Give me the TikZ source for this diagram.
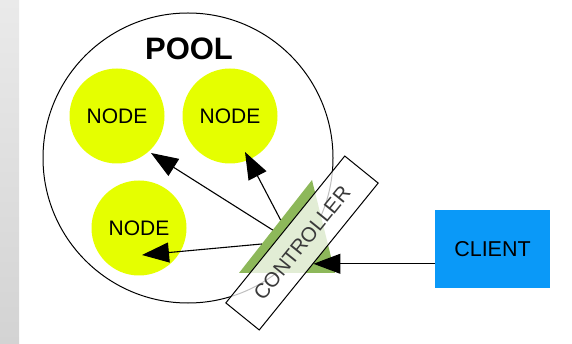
\documentclass[tikz,border=0pt]{standalone}
\usepackage{fontspec}
\setmainfont{Liberation Sans}
\usetikzlibrary{arrows.meta,calc}
\definecolor{nodeyellow}{HTML}{E5FF00}
\definecolor{clientblue}{HTML}{0A99F8}
\definecolor{ctrlgreen}{HTML}{8DB85A}
\definecolor{stripTop}{HTML}{EAEAEA}
\definecolor{stripBot}{HTML}{D3D3D3}
\definecolor{ctrltext}{HTML}{3A3A3A}
\begin{document}
\begin{tikzpicture}[x=1pt,y=-1pt,
  poolnode/.style={circle, fill=nodeyellow, minimum size=95pt, inner sep=0pt, font=\fontsize{21}{21}\selectfont},
  link/.style={line width=1.1pt, -{Triangle[length=27pt,width=20pt]}},
  ]
\useasboundingbox (0,0) rectangle (572,344);
\shade[top color=stripTop, bottom color=stripBot] (0,0) rectangle (19,344);
\node[circle, draw, line width=1pt, minimum size=290pt, inner sep=0pt] (pool) at (188,158) {};
\node[font=\fontsize{31}{31}\selectfont\bfseries] (pooltitle) at (189,49) {POOL};
\node[poolnode] (n1) at (117,116) {NODE};
\node[poolnode] (n2) at (230,116) {NODE};
\node[poolnode] (n3) at (139,228) {NODE};
\coordinate (gtop) at (312,180);
\coordinate (gbl) at (239,273);
\coordinate (gbr) at (335,273);
\fill[ctrlgreen] (gtop) -- (gbl) -- (gbr) -- cycle;
\coordinate (s1) at ($(gtop)!0.538!(gbl)$);
\coordinate (s2) at ($(gtop)!0.43!(gbl)$);
\coordinate (s3) at ($(gtop)!0.688!(gbl)$);
\coordinate (t1) at ($(n1.center)+(34,37)$);
\coordinate (t2) at ($(n2.center)+(15,36)$);
\coordinate (t3) at ($(n3.center)+(3,27)$);
\draw[link] (s1) -- (t1);
\draw[link] (s2) -- (t2);
\draw[link] (s3) -- (t3);
\node[draw, line width=1pt, fill=white, fill opacity=0.75, text opacity=1, text=ctrltext,
  rotate=51, minimum width=189pt, minimum height=43pt, inner sep=0pt,
  font=\fontsize{20.5}{20.5}\selectfont] (ctrl) at (302,243) {CONTROLLER};
\node[fill=clientblue, minimum width=115pt, minimum height=78pt, inner sep=0pt,
  font=\fontsize{21.5}{21.5}\selectfont] (client) at (492.5,249) {CLIENT};
\coordinate (ct) at ($(ctrl.south west)!0.453!(ctrl.south east)$);
\draw[link] (client.west |- ct) -- (ct);
\end{tikzpicture}
\end{document}
